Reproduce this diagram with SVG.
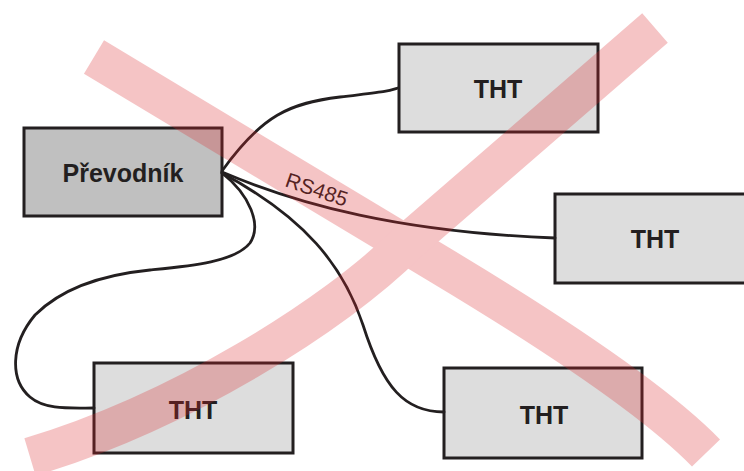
<svg xmlns="http://www.w3.org/2000/svg" width="744" height="471" viewBox="0 0 744 471">
<style>
.box{stroke:#231f20;stroke-width:3}
.conv{fill:#c0c0c0}
.tht{fill:#dddddd}
.lbl{font-family:"Liberation Sans",Arial,sans-serif;font-weight:bold;fill:#231f20;text-anchor:middle}
.cable{fill:none;stroke:#231f20;stroke-width:2.8;stroke-linecap:round}
.rs{font-family:"Liberation Sans",Arial,sans-serif;font-size:21px;fill:#231f20}
.band{fill:none;stroke:#dc282d;stroke-width:39;stroke-linecap:butt}
</style>
<rect width="744" height="471" fill="#ffffff"/>
<g id="prevodnik">
<rect class="box conv" x="24" y="128" width="198" height="88"/>
<text class="lbl" x="123" y="182" font-size="25">Převodník</text>
</g>
<g id="tht1">
<rect class="box tht" x="399" y="44" width="199" height="88"/>
<text class="lbl" x="498" y="98" font-size="25">THT</text>
</g>
<g id="tht2">
<rect class="box tht" x="555" y="194" width="200" height="89"/>
<text class="lbl" x="655" y="248" font-size="25">THT</text>
</g>
<g id="tht3">
<rect class="box tht" x="94" y="363" width="199" height="90"/>
<text class="lbl" x="193" y="419" font-size="25">THT</text>
</g>
<g id="tht4">
<rect class="box tht" x="444" y="368" width="198" height="90"/>
<text class="lbl" x="544" y="424" font-size="25">THT</text>
</g>
<g id="connectors">
<path class="cable" d="M222,171 C262,115 290,103 340,97 S385,92 398,88"/>
<path class="cable" d="M222,172 C300,205 400,232 555,238"/>
<path class="cable" d="M222,173 C305,218 343,265 363,325 C383,388 405,412 444,412"/>
<path class="cable" d="M222,173 C250,195 262,225 250,243 C235,262 190,266 150,270 C100,275 60,290 35,315 C10,345 10,380 30,397 C45,410 70,408 94,408"/>
<text class="rs" transform="translate(284,186) rotate(19)">RS485</text>
</g>
<g id="cross" opacity="0.27">
<path class="band" d="M94,57 L440,265 Q640,385 706,453"/>
<path class="band" d="M30,457 C180,412 335,315 407,243 L655,28"/>
</g>
</svg>
